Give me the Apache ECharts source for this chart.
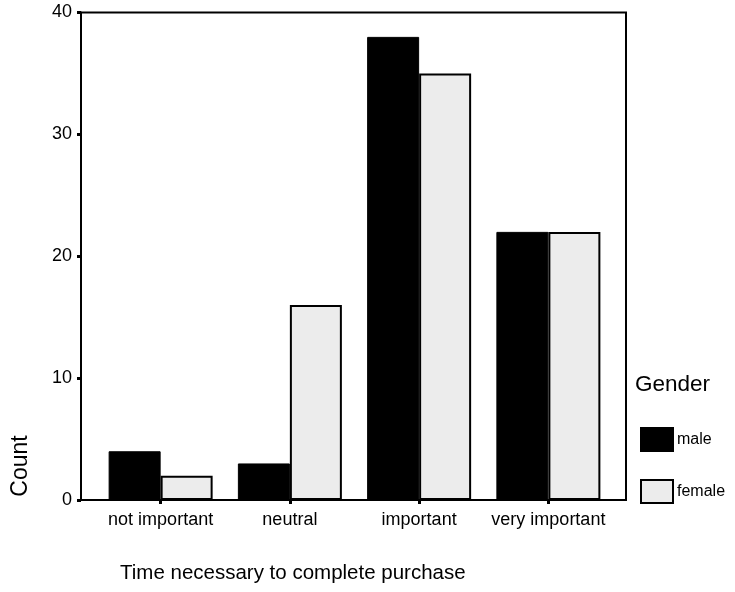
<!DOCTYPE html>
<html>
<head>
<meta charset="utf-8">
<script src="https://cdn.jsdelivr.net/npm/echarts@6/dist/echarts.min.js"></script>
<style>html,body{margin:0;padding:0;background:#fff;}#c{width:735px;height:592px;}</style>
</head>
<body>
<div id="c"></div>
<script>
const categories = ['not important', 'neutral', 'important', 'very important'];
const maleValues = [4, 3, 38, 22];
const femaleValues = [2, 16, 35, 22];
const yTicks = [0, 10, 20, 30, 40];
const seriesNames = ['male', 'female'];
const xTitle = 'Time necessary to complete purchase';
const yTitle = 'Count';
const legendTitle = 'Gender';

const FONT = '"Liberation Sans", Arial, sans-serif';
const chart = echarts.init(document.getElementById('c'), null, {renderer: 'canvas'});
chart.setOption({
  backgroundColor: '#fff',
  animation: false,
  grid: [
    {left: 81, top: 12.5, width: 545, height: 487.5, show: true, borderColor: '#000', borderWidth: 2, backgroundColor: 'transparent', containLabel: false},
    {left: 96, top: 12.5, width: 517, height: 487.5, containLabel: false}
  ],
  xAxis: [
    {gridIndex: 0, type: 'value', show: false, min: 0, max: 1},
    {gridIndex: 1, type: 'category', data: categories,
      axisLine: {show: false},
      axisTick: {show: true, alignWithLabel: true, length: 4, lineStyle: {color: '#000', width: 3}},
      axisLabel: {color: '#000', fontSize: 18, fontFamily: FONT, margin: 11, interval: 0}
    }
  ],
  yAxis: [
    {gridIndex: 0, type: 'value', min: yTicks[0], max: yTicks[yTicks.length - 1], interval: 10,
      axisLine: {show: true, lineStyle: {color: '#000', width: 2}},
      axisTick: {show: true, length: 4, lineStyle: {color: '#000', width: 3}},
      splitLine: {show: false},
      axisLabel: {color: '#000', fontSize: 18, fontFamily: FONT, margin: 9}
    },
    {gridIndex: 1, type: 'value', show: false, min: 0, max: 40, splitLine: {show: false}}
  ],
  legend: {
    orient: 'vertical', left: 640, top: 427, itemWidth: 32, itemHeight: 23, itemGap: 27,
    padding: 0, icon: 'rect', selectedMode: false,
    data: seriesNames,
    textStyle: {color: '#000', fontSize: 16, fontFamily: FONT, padding: [0, 0, 0, -1]}
  },
  graphic: [
    {type: 'text', x: 635, y: 385, style: {text: legendTitle, fill: '#000', fontSize: 22.5, fontFamily: FONT, align: 'left', verticalAlign: 'middle'}},
    {type: 'text', x: 120, y: 573, style: {text: xTitle, fill: '#000', fontSize: 20.5, fontFamily: FONT, align: 'left', verticalAlign: 'middle'}},
    {type: 'text', x: 21, y: 466, rotation: Math.PI / 2, style: {text: yTitle, fill: '#000', fontSize: 23, fontFamily: FONT, align: 'center', verticalAlign: 'middle'}}
  ],
  series: [
    {name: seriesNames[0], type: 'bar', xAxisIndex: 1, yAxisIndex: 1, data: maleValues, barWidth: 52, barGap: '0%',
      itemStyle: {color: '#000', borderColor: '#000', borderWidth: 1}},
    {name: seriesNames[1], type: 'bar', xAxisIndex: 1, yAxisIndex: 1, data: femaleValues, barWidth: 52, barGap: '0%',
      itemStyle: {color: '#ececec', borderColor: '#000', borderWidth: 2}}
  ]
});
</script>
</body>
</html>
